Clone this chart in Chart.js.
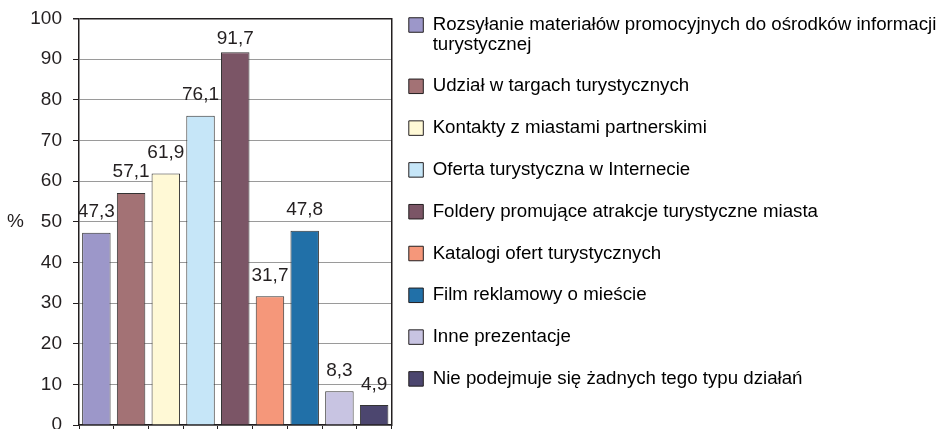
<!DOCTYPE html>
<html>
<head>
<meta charset="utf-8">
<title>Działania promocyjne</title>
<script src="https://cdn.jsdelivr.net/npm/chart.js@4/dist/chart.umd.min.js"></script>
<style>
  body { margin: 0; background: #fff; }
  canvas { display: block; }
</style>
</head>
<body>
<canvas id="promoChart" width="941" height="429"></canvas>
<script>
// Data
const categories = [
  'Rozsyłanie materiałów promocyjnych do ośrodków informacji\nturystycznej',
  'Udział w targach turystycznych',
  'Kontakty z miastami partnerskimi',
  'Oferta turystyczna w Internecie',
  'Foldery promujące atrakcje turystyczne miasta',
  'Katalogi ofert turystycznych',
  'Film reklamowy o mieście',
  'Inne prezentacje',
  'Nie podejmuje się żadnych tego typu działań'
];
const values = [47.3, 57.1, 61.9, 76.1, 91.7, 31.7, 47.8, 8.3, 4.9];
const colors = ['#9c97c9', '#a37275', '#fff9d6', '#c6e6f8', '#7b5566', '#f5977a', '#2170a8', '#c8c4e2', '#4c466f'];
const yMin = 0;
const yMax = 100;
const yStep = 10;
const yTitle = '%';

const ink = '#231f20';
const font = "'Liberation Sans', Arial, sans-serif";

// value labels above the bars, Polish decimal comma
const valueLabels = {
  id: 'valueLabels',
  afterDatasetsDraw(chart) {
    const ctx = chart.ctx;
    const meta = chart.getDatasetMeta(0);
    ctx.save();
    ctx.font = '19px ' + font;
    ctx.fillStyle = ink;
    ctx.textAlign = 'center';
    ctx.textBaseline = 'alphabetic';
    meta.data.forEach((bar, i) => {
      const y = Math.max(bar.y - 15.5, chart.chartArea.top + 25.5);
      ctx.fillText(values[i].toFixed(1).replace('.', ','), bar.x, y);
    });
    ctx.restore();
  }
};

// upright "%" left of the y axis
const unitLabel = {
  id: 'unitLabel',
  afterDraw(chart) {
    const ctx = chart.ctx;
    const area = chart.chartArea;
    ctx.save();
    ctx.font = '19px ' + font;
    ctx.fillStyle = ink;
    ctx.textAlign = 'center';
    ctx.textBaseline = 'middle';
    ctx.fillText(yTitle, 15.5, (area.top + area.bottom) / 2);
    ctx.restore();
  }
};

const ctx = document.getElementById('promoChart').getContext('2d');
new Chart(ctx, {
  type: 'bar',
  data: {
    labels: categories,
    datasets: [{
      data: values,
      backgroundColor: colors,
      borderColor: '#333',
      borderWidth: 1,
      barPercentage: 0.82,
      categoryPercentage: 1.0
    }]
  },
  options: {
    responsive: false,
    animation: false,
    devicePixelRatio: 1,
    layout: { padding: { top: 12.85, left: 0, right: 0, bottom: 0 } },
    plugins: {
      tooltip: { enabled: false },
      legend: {
        position: 'right',
        align: 'start',
        maxWidth: 535,
        labels: {
          color: ink,
          font: { family: font, size: 18.7, lineHeight: 1.0428 },
          boxWidth: 14.5,
          boxHeight: 14.5,
          padding: 2.8,
          // one entry per category; a trailing blank line sets the row spacing
          generateLabels: () => categories.map((c, i) => ({
            text: c.split('\n').concat(['']),
            fillStyle: colors[i],
            strokeStyle: ink,
            lineWidth: 1,
            hidden: false,
            index: i,
            datasetIndex: 0
          }))
        }
      }
    },
    scales: {
      x: {
        ticks: { display: false },
        grid: {
          offset: true,
          drawOnChartArea: false,
          drawTicks: true,
          tickLength: 4,
          color: ink,
          tickColor: ink
        },
        border: { display: true, color: ink, width: 1.5 }
      },
      y: {
        min: yMin,
        max: yMax,
        ticks: {
          stepSize: yStep,
          padding: 11,
          color: ink,
          font: { family: font, size: 19 }
        },
        grid: {
          color: c => (c.tick && c.tick.value === yMax ? ink : '#9a9a9a'),
          lineWidth: c => (c.tick && c.tick.value === yMax ? 1.5 : 1),
          tickLength: 6,
          tickColor: ink
        },
        border: { display: true, color: ink, width: 1.5 },
        afterFit(scale) {
          scale.width = 79;
          scale.paddingTop = 18.5;
          scale.paddingBottom = 0;
        }
      },
      // right edge of the plot frame, also the gap before the legend
      y2: {
        position: 'right',
        ticks: { display: false },
        grid: { drawOnChartArea: false, drawTicks: false },
        border: { display: true, color: ink, width: 1.5 },
        afterFit(scale) {
          scale.width = 14.5;
        }
      }
    }
  },
  plugins: [valueLabels, unitLabel]
});
</script>
</body>
</html>
